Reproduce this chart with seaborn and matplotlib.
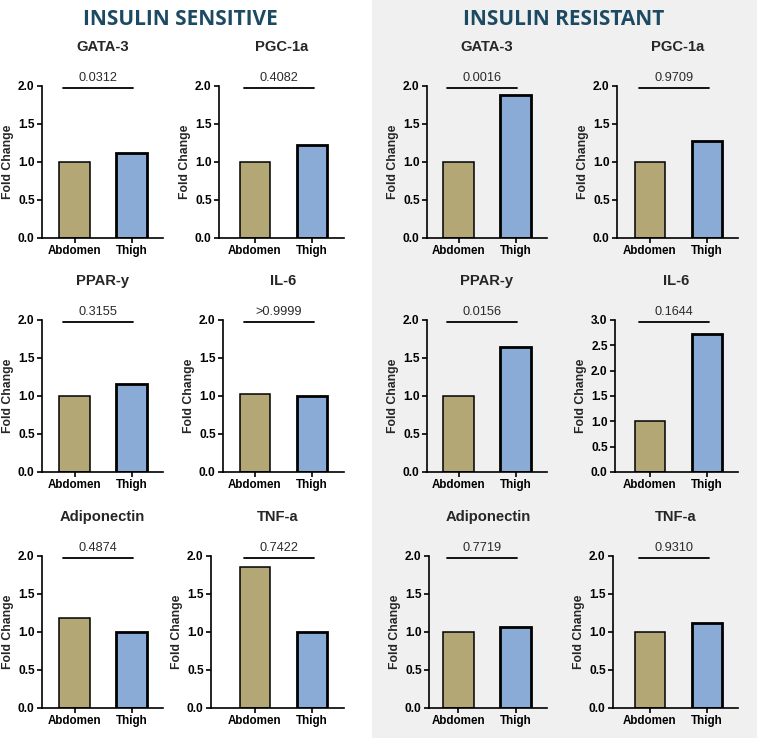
import matplotlib
matplotlib.use("Agg")
import matplotlib.pyplot as plt
import matplotlib.transforms as mtransforms
from matplotlib.patches import Rectangle
import seaborn as sns
import pandas as pd

# ---------------- data ----------------
markers = ["GATA-3", "PGC-1a", "PPAR-y", "IL-6", "Adiponectin", "TNF-a"]
sites = ["Abdomen", "Thigh"]
sens_abdomen = [1.00, 1.00, 1.00, 1.02, 1.18, 1.86]
sens_thigh = [1.12, 1.22, 1.16, 1.00, 1.00, 1.00]
sens_p = ["0.0312", "0.4082", "0.3155", ">0.9999", "0.4874", "0.7422"]
res_abdomen = [1.00, 1.00, 1.00, 1.00, 1.00, 1.00]
res_thigh = [1.88, 1.27, 1.65, 2.73, 1.07, 1.12]
res_p = ["0.0016", "0.9709", "0.0156", "0.1644", "0.7719", "0.9310"]
sens_ymax = [2.0, 2.0, 2.0, 2.0, 2.0, 2.0]
res_ymax = [2.0, 2.0, 2.0, 3.0, 2.0, 2.0]
group_titles = ["INSULIN SENSITIVE", "INSULIN RESISTANT"]

# ---------------- style ----------------
sns.set_theme(style="ticks")
plt.rcParams["font.family"] = ["Liberation Sans", "DejaVu Sans"]
TAN = "#b3a775"
BLUE = "#8aabd5"
TITLE_C = "#1d4a63"

W, H = 757, 738
fig = plt.figure(figsize=(W / 100, H / 100), dpi=100)
fig.patch.set_facecolor("white")
fig.patches.append(Rectangle((372 / W, 0), 1 - 372 / W, 1, transform=fig.transFigure,
                             facecolor="#f0f0f0", edgecolor="none", zorder=-10))

UNIT = 57.0   # px per category step
# layout in pixels
bottoms = [238, 472, 708]
AX_H = 152
col_c0 = [[74.5, 255.0], [458.5, 650.0]]
col_right = [[163, 344], [547, 738]]
lefts = [
    [[42, 219], [42, 223], [42, 211]],
    [[427, 617], [427, 615], [429, 613]],
]

groups = [
    (sens_abdomen, sens_thigh, sens_p, sens_ymax),
    (res_abdomen, res_thigh, res_p, res_ymax),
]

for g, (abd, thi, pv, ymaxs) in enumerate(groups):
    for i, name in enumerate(markers):
        r, c = divmod(i, 2)
        left = lefts[g][r][c]
        right = col_right[g][c]
        c0 = col_c0[g][c]
        bottom = bottoms[r]
        ax = fig.add_axes([left / W, 1 - bottom / H, (right - left) / W, AX_H / H])
        ax.set_facecolor("none")
        df = pd.DataFrame({"site": sites, "fold": [abd[i], thi[i]]})
        sns.barplot(data=df, x="site", y="fold", hue="site", palette=[TAN, BLUE],
                    width=0.54, edgecolor="black", legend=False, ax=ax, saturation=1)
        for p, lw in zip(ax.patches, [1.1, 2.0]):
            p.set_linewidth(lw)
        ax.set_xlim(-(c0 - left) / UNIT, 1 + (right - (c0 + UNIT)) / UNIT)
        ymax = ymaxs[i]
        ax.set_ylim(0, ymax)
        ticks = [k * 0.5 for k in range(int(ymax / 0.5) + 1)]
        ax.set_yticks(ticks)
        ax.set_yticklabels([f"{t:.1f}" for t in ticks], fontweight="bold", fontsize=8.6)
        ax.set_xticks([0, 1])
        ax.set_xticklabels(sites, fontweight="bold", fontsize=8.4)
        ax.set_xlabel("")
        ax.set_ylabel("Fold Change", fontweight="bold", fontsize=8.8, labelpad=3.0)
        for s in ["top", "right"]:
            ax.spines[s].set_visible(False)
        for s in ["left", "bottom"]:
            ax.spines[s].set_linewidth(1.2)
            ax.spines[s].set_color("black")
        ax.tick_params(axis="both", length=3.8, width=1.2, color="black", pad=1.5,
                       labelcolor="black")
        ax.set_title(name, fontweight="bold", fontsize=10.6, pad=25.5)
        tr = mtransforms.blended_transform_factory(ax.transData, ax.transAxes)
        ax.plot([-0.2, 1.03], [0.988, 0.988], color="black", lw=1.3, transform=tr,
                clip_on=False)
        ax.text(0.415, 1.012, pv[i], transform=tr, ha="center", va="bottom",
                fontsize=9.2, color="#2a2a2a")

fig.text(180 / W, 1 - 19.5 / H, group_titles[0], ha="center", va="center",
         fontsize=15, fontweight="bold", color=TITLE_C, family=["Open Sans", "DejaVu Sans"])
fig.text(564 / W, 1 - 19.5 / H, group_titles[1], ha="center", va="center",
         fontsize=15, fontweight="bold", color=TITLE_C, family=["Open Sans", "DejaVu Sans"])

fig.savefig("out.png", dpi=100)
